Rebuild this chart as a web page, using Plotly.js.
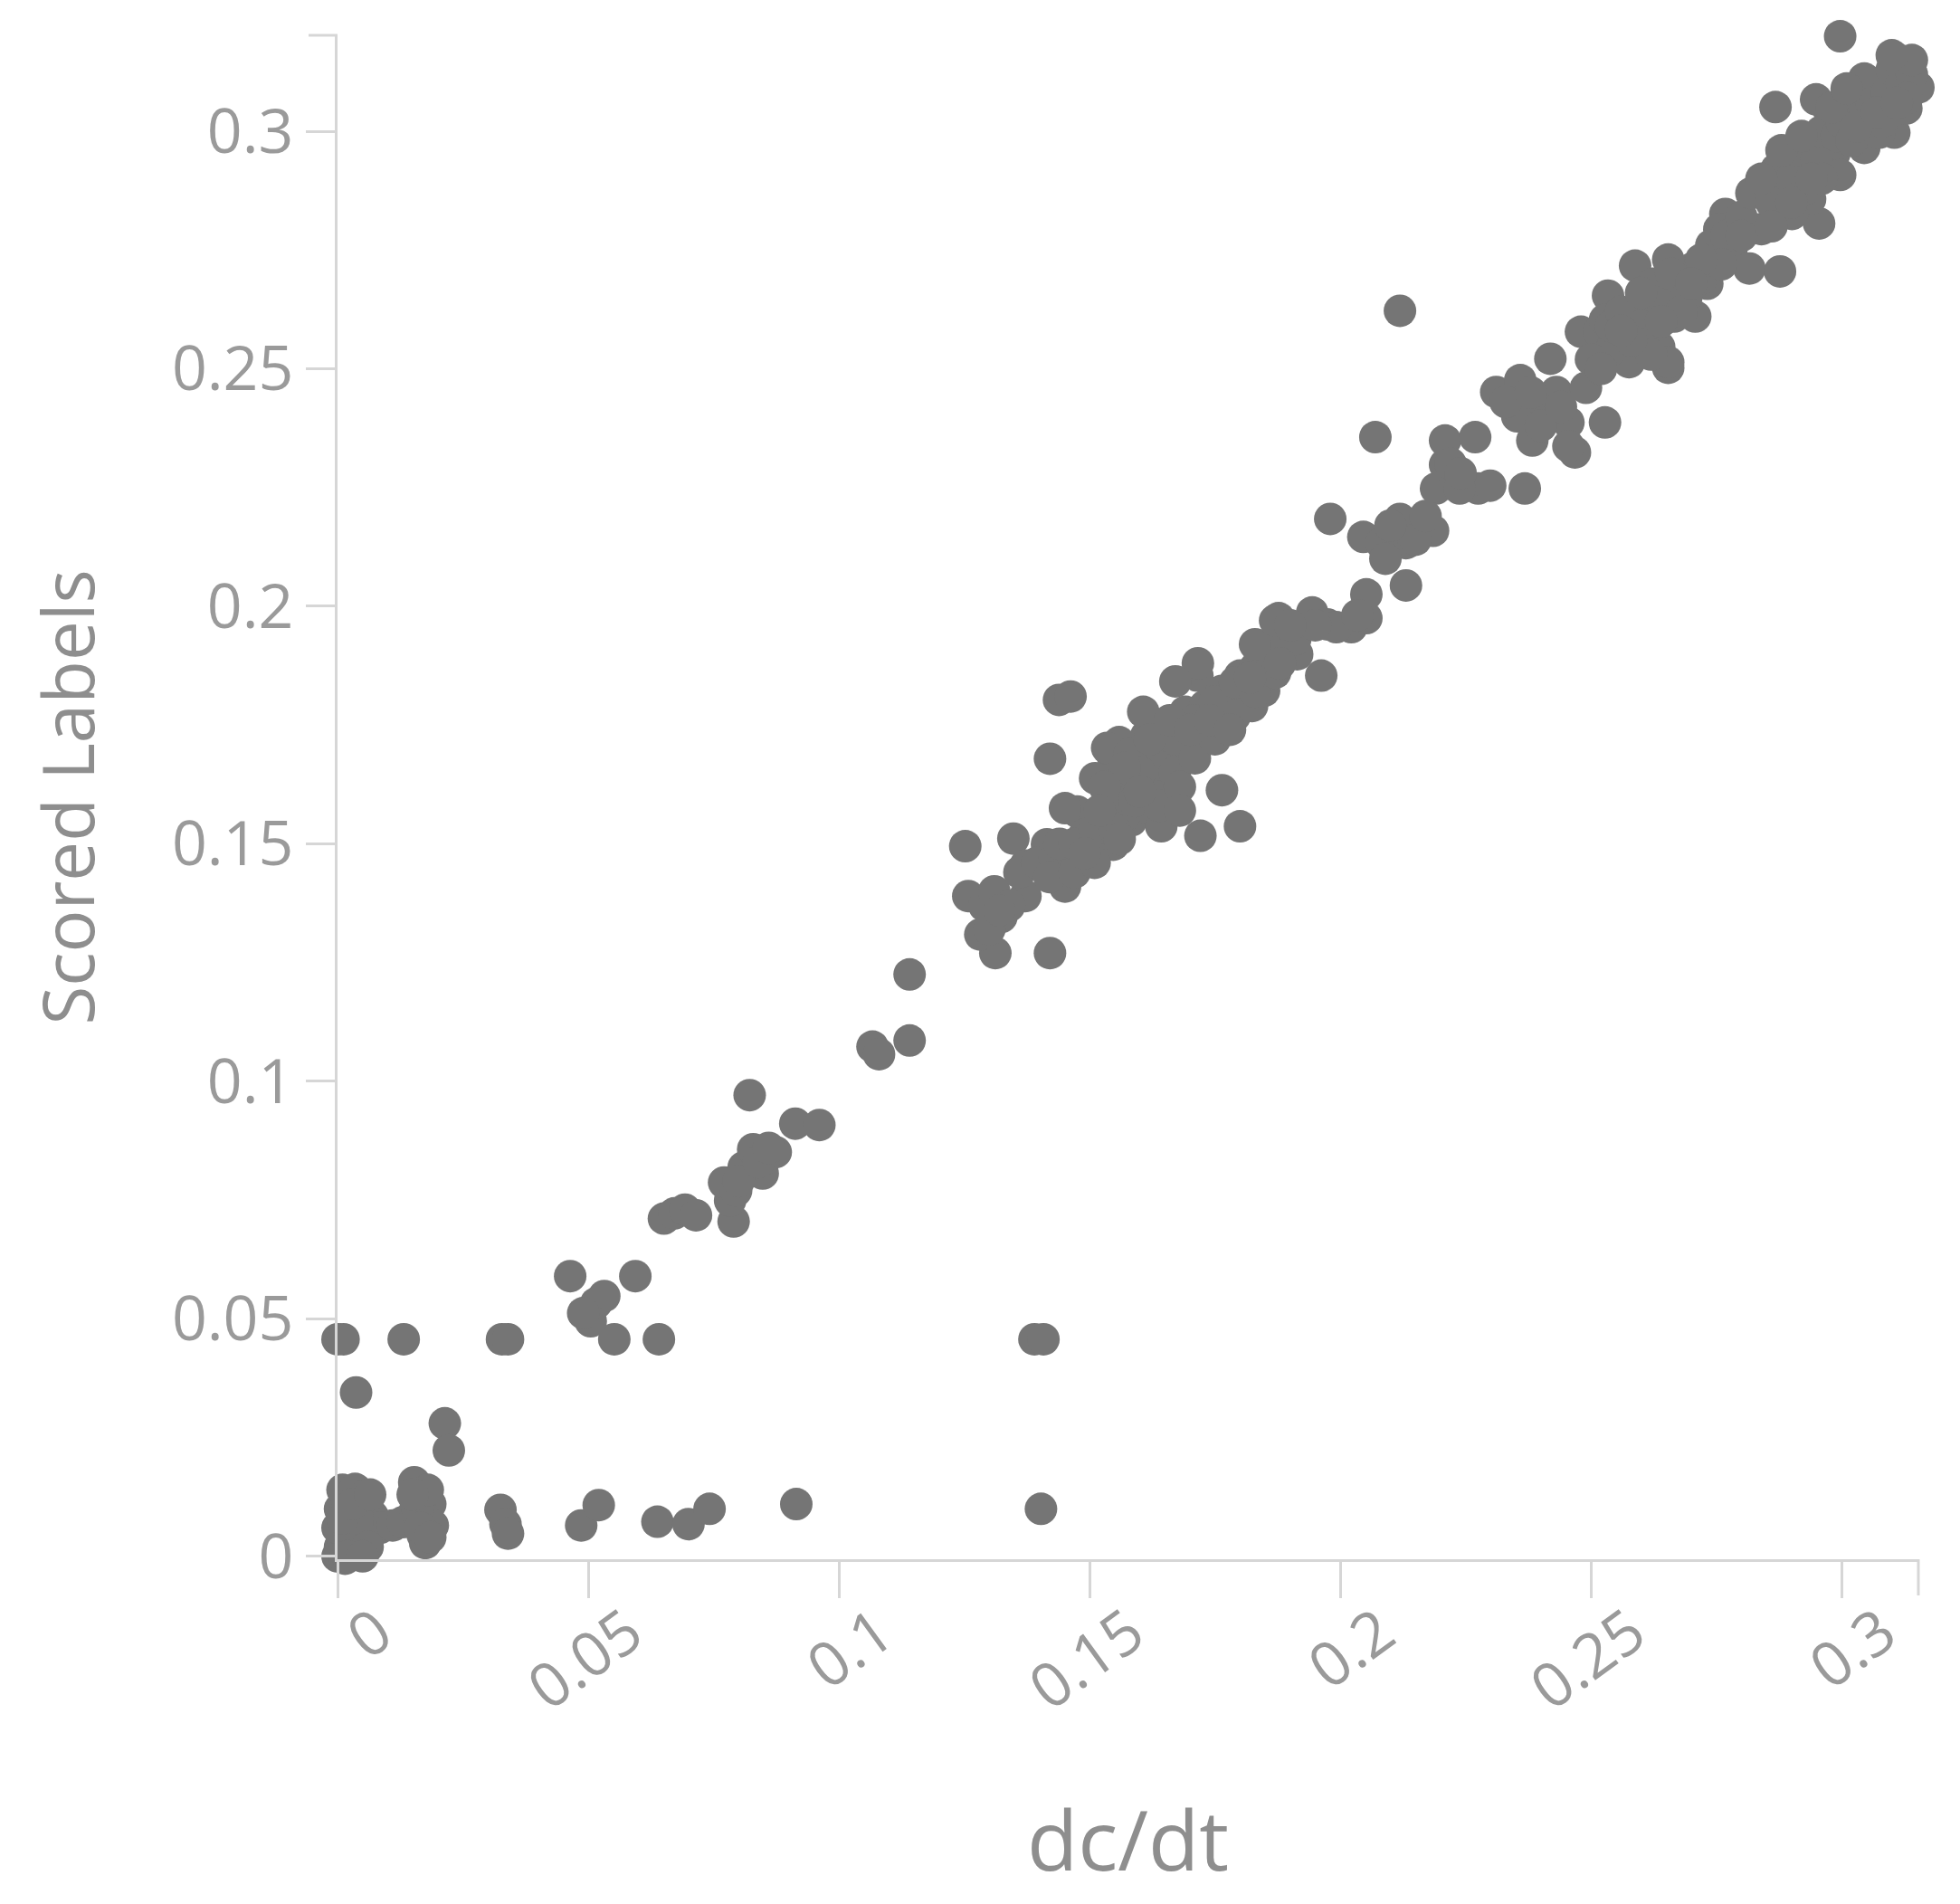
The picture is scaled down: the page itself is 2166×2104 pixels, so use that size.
<!DOCTYPE html>
<html>
<head>
<meta charset="utf-8">
<script src="https://cdn.plot.ly/plotly-3.0.1.min.js"></script>
<style>
  html, body { margin: 0; padding: 0; background: #fff; }
  #chart { width: 2166px; height: 2104px; }
</style>
</head>
<body>
<div id="chart"></div>
<script>
// dc/dt vs scored labels
const dcdt = [
  0.0000, 0.0005, 0.0010, 0.0000, 0.0015, 0.0005, 0.0020, 0.0010, 0.0035, 0.0050,
  0.0045, 0.0030, 0.0025, 0.0035, 0.0055, 0.0060, 0.0070, 0.0058, 0.0015, 0.0002,
  0.0085, 0.0110, 0.0130, 0.0153, 0.0162, 0.0185, 0.0175, 0.0190, 0.0170, 0.0175,
  0.0155, 0.0045, 0.0037, 0.0214, 0.0222, 0.0325, 0.0335, 0.0340, 0.0486, 0.0521,
  0.0638, 0.0700, 0.0742, 0.0915, 0.1403, 0.0000, 0.0012, 0.0132, 0.0328, 0.0340,
  0.0552, 0.0641, 0.1390, 0.1408, 0.0464, 0.0594, 0.0516, 0.0532, 0.0505, 0.0490,
  0.0651, 0.0672, 0.0693, 0.0715, 0.0790, 0.0783, 0.0771, 0.0795, 0.0810, 0.0848,
  0.0874, 0.0829, 0.0850, 0.0913, 0.0961, 0.0822, 0.1067, 0.1080, 0.1141, 0.1141,
  0.1252, 0.1439, 0.1462, 0.1421, 0.1421, 0.1312, 0.1282, 0.1258, 0.1372, 0.1324,
  0.1348, 0.1415, 0.1451, 0.1475, 0.1511, 0.1547, 0.1505, 0.1475, 0.1535, 0.1559,
  0.1583, 0.1613, 0.1643, 0.1643, 0.1595, 0.1547, 0.1559, 0.1613, 0.1607, 0.1655,
  0.1691, 0.1679, 0.1715, 0.1752, 0.1715, 0.1764, 0.1800, 0.1824, 0.1848, 0.1860,
  0.1884, 0.1914, 0.1974, 0.2022, 0.2052, 0.1764, 0.1800, 0.1721, 0.1962, 0.1490,
  0.1570, 0.1620, 0.1690, 0.1730, 0.1790, 0.1535, 0.1511, 0.1451, 0.1372, 0.1660,
  0.2119, 0.2070, 0.1980, 0.1877, 0.1944, 0.1992, 0.2052, 0.2034, 0.2131, 0.1877,
  0.2046, 0.2119, 0.2131, 0.2185, 0.2191, 0.2209, 0.2209, 0.2269, 0.2275, 0.2299,
  0.2368, 0.2311, 0.2359, 0.2353, 0.2383, 0.2407, 0.2431, 0.2468, 0.2528, 0.2419,
  0.2480, 0.2534, 0.2576, 0.2636, 0.2546, 0.2654, 0.2606, 0.2666, 0.2082, 0.2238,
  0.2383, 0.2455, 0.2455, 0.2516, 0.2606, 0.2636, 0.2576, 0.2997, 0.2868, 0.2528,
  0.2540, 0.2588, 0.2654, 0.2666, 0.2702, 0.2732, 0.2624, 0.2708, 0.2582, 0.2768,
  0.2780, 0.2816, 0.2877, 0.2955, 0.2840, 0.2840, 0.2889, 0.2925, 0.2973, 0.2985,
  0.2937, 0.3033, 0.3069, 0.3117, 0.3153, 0.3105, 0.3045, 0.2997, 0.3129, 0.3081,
  0.2901, 0.2654, 0.2624, 0.2756, 0.2877, 0.2925, 0.3015, 0.3105, 0.3075, 0.2949,
  0.3045,
  // second pass: the dense parts of the cloud
  0.0040, 0.0020, 0.0040, 0.0010, 0.0060, 0.0030, 0.0065, 0.0020, 0.0050, 0.0160,
  0.0180, 0.0165, 0.0185, 0.0150, 0.0800, 0.0840, 0.0860, 0.1290, 0.1310, 0.1340,
  0.1300, 0.1360, 0.1395, 0.1320, 0.1430, 0.1440, 0.1420, 0.1470, 0.1470, 0.1510,
  0.1510, 0.1550, 0.1550, 0.1590, 0.1590, 0.1630, 0.1630, 0.1670, 0.1670, 0.1710,
  0.1710, 0.1750, 0.1750, 0.1790, 0.1790, 0.1830, 0.1830, 0.1870, 0.1870, 0.1910,
  0.1950, 0.1716, 0.1671, 0.2090, 0.2150, 0.2170, 0.2100, 0.2220, 0.2240, 0.2330,
  0.2380, 0.2400, 0.2440, 0.2490, 0.2500, 0.2540, 0.2560, 0.2600, 0.2640, 0.2660,
  0.2690, 0.2620, 0.2520, 0.2580, 0.2740, 0.2770, 0.2800, 0.2820, 0.2860, 0.2870,
  0.2900, 0.2910, 0.2950, 0.2960, 0.2990, 0.3000, 0.3020, 0.3050, 0.3060, 0.3090,
  0.3100, 0.3120, 0.3140, 0.3130, 0.3080, 0.3020, 0.2960, 0.2930, 0.2720, 0.2680,
  // third pass: thickening the band
  0.1580, 0.1620, 0.1600, 0.1640, 0.1680, 0.1570, 0.1530, 0.1520, 0.1660, 0.1700,
  0.1740, 0.1780, 0.1680, 0.1560, 0.1490, 0.1600, 0.1830, 0.1870, 0.1900, 0.1880,
  0.1820, 0.2880, 0.2920, 0.2900, 0.2940, 0.2980, 0.3010, 0.3030, 0.3070, 0.3110,
  0.3140, 0.3100, 0.2840, 0.2800, 0.2860, 0.2760, 0.2720, 0.2700, 0.2640, 0.2600,
  0.2560
];
const scoredLabels = [
  0.0000, 0.0020, 0.0040, 0.0060, 0.0080, 0.0100, 0.0120, 0.0140, 0.0142, 0.0125,
  0.0100, 0.0070, 0.0040, 0.0015, 0.0045, 0.0070, 0.0085, 0.0108, -0.0005, -0.0008,
  0.0060, 0.0065, 0.0072, 0.0156, 0.0128, 0.0110, 0.0080, 0.0065, 0.0045, 0.0028,
  0.0098, 0.0010, 0.0345, 0.0280, 0.0223, 0.0098, 0.0068, 0.0048, 0.0065, 0.0108,
  0.0073, 0.0068, 0.0100, 0.0110, 0.0100, 0.0457, 0.0457, 0.0457, 0.0457, 0.0457,
  0.0457, 0.0457, 0.0457, 0.0457, 0.0590, 0.0590, 0.0533, 0.0548, 0.0495, 0.0512,
  0.0711, 0.0722, 0.0730, 0.0718, 0.0705, 0.0749, 0.0787, 0.0770, 0.0819, 0.0806,
  0.0851, 0.0857, 0.0835, 0.0911, 0.0908, 0.0971, 0.1073, 0.1057, 0.1086, 0.1225,
  0.1495, 0.1803, 0.1810, 0.1679, 0.1270, 0.1270, 0.1309, 0.1390, 0.1390, 0.1346,
  0.1511, 0.1499, 0.1410, 0.1460, 0.1486, 0.1498, 0.1537, 0.1568, 0.1587, 0.1625,
  0.1549, 0.1575, 0.1537, 0.1625, 0.1676, 0.1682, 0.1714, 0.1727, 0.1778, 0.1740,
  0.1778, 0.1676, 0.1714, 0.1752, 0.1854, 0.1822, 0.1854, 0.1790, 0.1822, 0.1905,
  0.1943, 0.1899, 0.1962, 0.1956, 0.1975, 0.1613, 0.1537, 0.1517, 0.1854, 0.1520,
  0.1560, 0.1650, 0.1700, 0.1790, 0.1800, 0.1702, 0.1638, 0.1575, 0.1454, 0.1690,
  0.2622, 0.2356, 0.2184, 0.1975, 0.1987, 0.1956, 0.2025, 0.1981, 0.2044, 0.1879,
  0.2146, 0.2184, 0.2133, 0.2159, 0.2248, 0.2298, 0.2349, 0.2356, 0.2248, 0.2254,
  0.2248, 0.2451, 0.2476, 0.2400, 0.2349, 0.2406, 0.2451, 0.2324, 0.2387, 0.2521,
  0.2578, 0.2654, 0.2610, 0.2673, 0.2540, 0.2502, 0.2546, 0.2610, 0.2133, 0.2248,
  0.2425, 0.2387, 0.2337, 0.2578, 0.2629, 0.2546, 0.2514, 0.3200, 0.3051, 0.2603,
  0.2540, 0.2717, 0.2514, 0.2667, 0.2711, 0.2679, 0.2635, 0.2610, 0.2565, 0.2826,
  0.2743, 0.2711, 0.2705, 0.2806, 0.2794, 0.2883, 0.2933, 0.2984, 0.3048, 0.2952,
  0.2857, 0.3035, 0.3098, 0.3149, 0.3092, 0.2997, 0.2965, 0.2908, 0.3048, 0.3048,
  0.2826, 0.2730, 0.2679, 0.2794, 0.2883, 0.2921, 0.2997, 0.3099, 0.2997, 0.3067,
  0.3111,
  0.0060, 0.0100, 0.0080, 0.0080, 0.0020, 0.0110, 0.0130, 0.0000, 0.0000, 0.0100,
  0.0140, 0.0060, 0.0040, 0.0130, 0.0790, 0.0830, 0.0860, 0.1370, 0.1400, 0.1370,
  0.1320, 0.1440, 0.1460, 0.1360, 0.1470, 0.1500, 0.1430, 0.1440, 0.1500, 0.1530,
  0.1460, 0.1530, 0.1600, 0.1590, 0.1640, 0.1600, 0.1680, 0.1650, 0.1720, 0.1680,
  0.1760, 0.1720, 0.1800, 0.1770, 0.1840, 0.1820, 0.1870, 0.1860, 0.1920, 0.1930,
  0.1960, 0.1880, 0.1842, 0.2100, 0.2140, 0.2190, 0.2170, 0.2300, 0.2280, 0.2430,
  0.2450, 0.2380, 0.2420, 0.2460, 0.2520, 0.2590, 0.2620, 0.2590, 0.2640, 0.2700,
  0.2650, 0.2530, 0.2500, 0.2560, 0.2760, 0.2780, 0.2820, 0.2870, 0.2850, 0.2920,
  0.2900, 0.2960, 0.2940, 0.3000, 0.2990, 0.3020, 0.3060, 0.3040, 0.3060, 0.3080,
  0.3130, 0.3100, 0.3120, 0.3070, 0.3020, 0.2980, 0.2900, 0.2880, 0.2690, 0.2620,
  0.1690, 0.1720, 0.1650, 0.1580, 0.1620, 0.1660, 0.1620, 0.1570, 0.1760, 0.1740,
  0.1760, 0.1740, 0.1570, 0.1510, 0.1480, 0.1610, 0.1920, 0.1970, 0.1960, 0.1880,
  0.1850, 0.2960, 0.2990, 0.2850, 0.2900, 0.3050, 0.3090, 0.3010, 0.3040, 0.3060,
  0.3150, 0.3160, 0.2900, 0.2780, 0.2800, 0.2720, 0.2730, 0.2680, 0.2600, 0.2660,
  0.2580
];

const tickVals = [0, 0.05, 0.1, 0.15, 0.2, 0.25, 0.3];
const tickText = ['0', '0.05', '0.1', '0.15', '0.2', '0.25', '0.3'];

const xTitle = 'dc/dt';
const yTitle = 'Scored Labels';

const axisGrey = '#d6d6d6';
const labelGrey = '#9a9a9a';
const dotGrey = 'rgb(117,117,117)';

var trace = [{
    type: 'scatter',
    mode: 'markers',
    x: dcdt,
    y: scoredLabels,
    cliponaxis: false,
    hoverinfo: 'x+y',
    marker: {
        color: dotGrey,
        size: 36,
        line: { width: 0 }
    }
}];

var layout = {
    width: 2166,
    height: 2104,
    paper_bgcolor: '#ffffff',
    plot_bgcolor: '#ffffff',
    showlegend: false,
    font: { family: 'Open Sans, Noto Sans, sans-serif', color: labelGrey },
    margin: { l: 373, r: 46, t: 39, b: 381, pad: 0 },
    xaxis: {
        range: [0, 0.3153],
        tickvals: tickVals,
        ticktext: tickText,
        tickangle: -36,
        ticklabelshift: 45,
        ticklabelstandoff: -28,
        ticks: 'outside',
        ticklen: 40,
        tickwidth: 3,
        tickcolor: axisGrey,
        showline: true,
        linecolor: axisGrey,
        linewidth: 3,
        showgrid: false,
        zeroline: false,
        tickfont: { size: 68, color: labelGrey },
        title: { text: xTitle, font: { size: 92, color: '#8e8e8e' }, standoff: 96 }
    },
    yaxis: {
        range: [-0.0006, 0.3202],
        tickvals: tickVals,
        ticktext: tickText,
        ticks: 'outside',
        ticklen: 32,
        tickwidth: 3,
        tickcolor: axisGrey,
        showline: true,
        linecolor: axisGrey,
        linewidth: 3,
        showgrid: false,
        zeroline: false,
        tickfont: { size: 68, color: labelGrey },
        title: { text: yTitle, font: { size: 78, color: '#8e8e8e' }, standoff: 60 }
    },
    // little end caps at the far ends of both axis lines
    shapes: [
        {
            type: 'line', xref: 'paper', yref: 'paper',
            xsizemode: 'pixel', xanchor: 0, x0: -32, x1: 0, y0: 1, y1: 1,
            line: { color: axisGrey, width: 3 }
        },
        {
            type: 'line', xref: 'paper', yref: 'paper',
            ysizemode: 'pixel', yanchor: 0, y0: -40, y1: 0, x0: 1, x1: 1,
            line: { color: axisGrey, width: 3 }
        }
    ]
};

Plotly.newPlot('chart', trace, layout, { displayModeBar: false, staticPlot: true });
</script>
</body>
</html>
